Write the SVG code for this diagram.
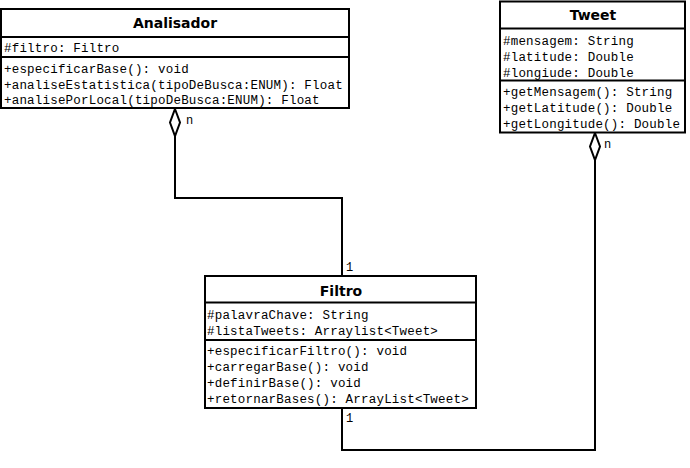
<svg xmlns="http://www.w3.org/2000/svg" width="690" height="468" viewBox="0 0 690 468">
<style>
.box{fill:#fff;stroke:#000;stroke-width:2}
.sep{stroke:#000;stroke-width:2}
.title{font-family:"DejaVu Sans",Verdana,sans-serif;font-weight:bold;font-size:14px;text-anchor:middle;fill:#000}
.m{font-family:"Liberation Mono","Courier New",monospace;font-size:12.5px;letter-spacing:0.2px;fill:#000}
.lbl{font-family:"Liberation Mono","Courier New",monospace;font-size:12px;fill:#000}
.conn{fill:none;stroke:#000;stroke-width:2}
.dia{fill:#fff;stroke:#000;stroke-width:2}
</style>
<rect width="690" height="468" fill="#fff"/>
<g id="connectors">
<polyline class="conn" points="175,136 175,198 342,198 342,276"/>
<polygon class="dia" points="175,109 180,122.5 175,136 170,122.5"/>
<text class="lbl" x="186" y="124">n</text>
<text class="lbl" x="346" y="271">1</text>
<polyline class="conn" points="595,160 595,450 342,450 342,408"/>
<polygon class="dia" points="595,133 600,146.5 595,160 590,146.5"/>
<text class="lbl" x="604" y="148">n</text>
<text class="lbl" x="346" y="422">1</text>
</g>
<g id="Analisador">
<rect class="box" x="1" y="9" width="348" height="99"/>
<line class="sep" x1="1" y1="37" x2="349" y2="37"/>
<line class="sep" x1="1" y1="57" x2="349" y2="57"/>
<text class="title" x="175" y="28">Analisador</text>
<text class="m" x="4" y="52">#filtro: Filtro</text>
<text class="m" x="4" y="73">+especificarBase(): void</text>
<text class="m" x="4" y="88.5">+analiseEstatistica(tipoDeBusca:ENUM): Float</text>
<text class="m" x="4" y="104">+analisePorLocal(tipoDeBusca:ENUM): Float</text>
</g>
<g id="Tweet">
<rect class="box" x="500" y="1.5" width="185" height="131"/>
<line class="sep" x1="500" y1="28.5" x2="685" y2="28.5"/>
<line class="sep" x1="500" y1="80.5" x2="685" y2="80.5"/>
<text class="title" x="593" y="20">Tweet</text>
<text class="m" x="503" y="45">#mensagem: String</text>
<text class="m" x="503" y="61">#latitude: Double</text>
<text class="m" x="503" y="77">#longiude: Double</text>
<text class="m" x="503" y="96">+getMensagem(): String</text>
<text class="m" x="503" y="112">+getLatitude(): Double</text>
<text class="m" x="503" y="128">+getLongitude(): Double</text>
</g>
<g id="Filtro">
<rect class="box" x="205" y="276" width="271" height="132"/>
<line class="sep" x1="205" y1="302.5" x2="476" y2="302.5"/>
<line class="sep" x1="205" y1="340" x2="476" y2="340"/>
<text class="title" x="341" y="296">Filtro</text>
<text class="m" x="207" y="319">#palavraChave: String</text>
<text class="m" x="207" y="335">#listaTweets: Arraylist&lt;Tweet&gt;</text>
<text class="m" x="207" y="355">+especificarFiltro(): void</text>
<text class="m" x="207" y="371">+carregarBase(): void</text>
<text class="m" x="207" y="387">+definirBase(): void</text>
<text class="m" x="207" y="403">+retornarBases(): ArrayList&lt;Tweet&gt;</text>
</g>
</svg>
